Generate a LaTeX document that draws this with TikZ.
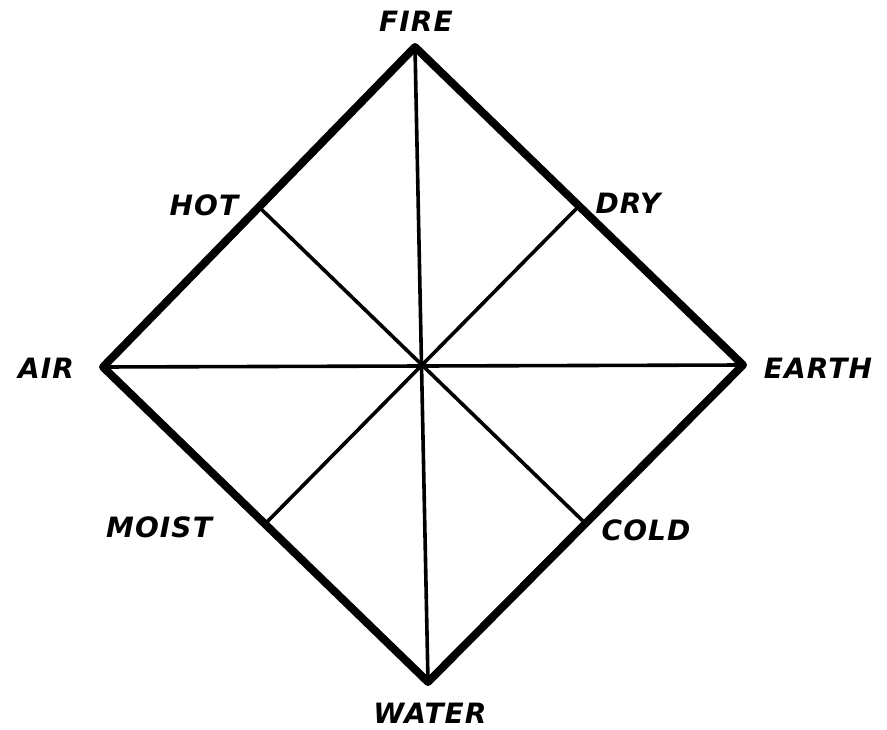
\documentclass[tikz,border=0pt]{standalone}
\usepackage{fontspec}
\newfontfamily\labfont{DejaVu Sans}[LetterSpace=4]
\begin{document}
\begin{tikzpicture}[x=1pt,y=-1pt,
  outline/.style={line width=8pt,line join=round,line cap=round},
  spoke/.style={line width=3.6pt,line cap=round},
  lab/.style={font=\labfont\bfseries\itshape\fontsize{28}{30}\selectfont,inner sep=0pt}]
\useasboundingbox (0,0) rectangle (887,730);
% vertices
\coordinate (fire) at (415,47);
\coordinate (earth) at (743,365);
\coordinate (water) at (428,682);
\coordinate (air) at (103,367);
\coordinate (c) at (422,365);
\coordinate (hot) at (259,207);
\coordinate (dry) at (579,206);
\coordinate (moist) at (265,524);
\coordinate (cold) at (585,523);
% spokes
\draw[spoke] (fire) -- (water);
\draw[spoke] (air) -- (earth);
\draw[spoke] (hot) -- (cold);
\draw[spoke] (dry) -- (moist);
% outline
\draw[outline] (fire) -- (earth) -- (water) -- (air) -- cycle;
% labels
\node[lab] (lfire) at (416,21) {FIRE};
\node[lab] (lair) at (46,368) {AIR};
\node[lab] (learth) at (818,368) {EARTH};
\node[lab] (lwater) at (430,713) {WATER};
\node[lab] (lhot) at (204,205) {HOT};
\node[lab] (ldry) at (628,203) {DRY};
\node[lab] (lmoist) at (159,527) {MOIST};
\node[lab] (lcold) at (646,530) {COLD};
\end{tikzpicture}
\end{document}
